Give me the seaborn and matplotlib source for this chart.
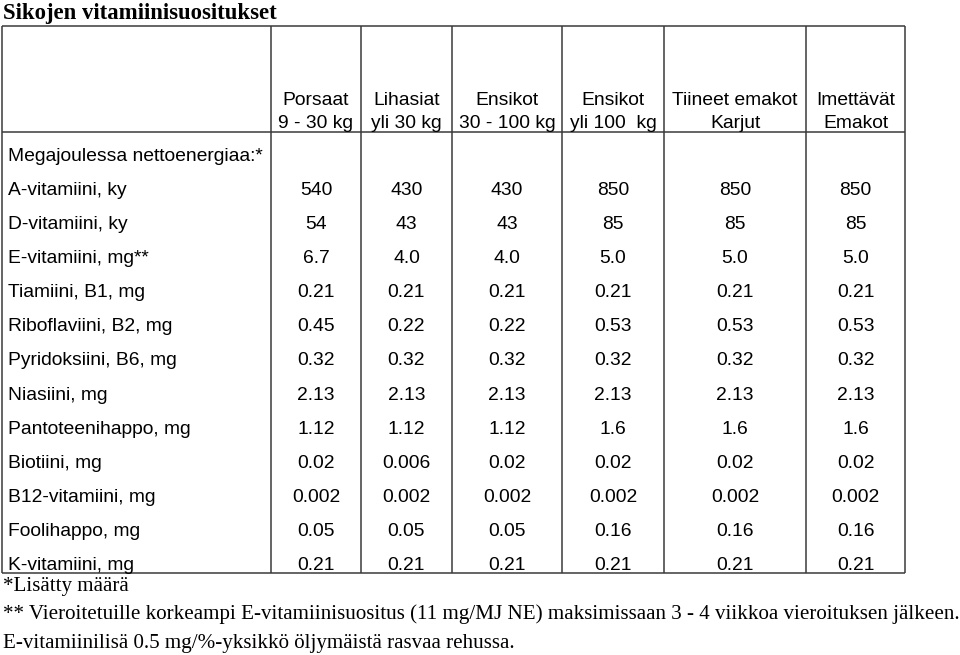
import matplotlib
matplotlib.use("Agg")
import matplotlib.pyplot as plt
import seaborn as sns

# --- table content ---
title = "Sikojen vitamiinisuositukset"

col_headers = ["Porsaat\n9 - 30 kg", "Lihasiat\nyli 30 kg", "Ensikot\n30 - 100 kg",
               "Ensikot\nyli 100  kg", "Tiineet emakot\nKarjut", "Imettävät\nEmakot"]

section_label = "Megajoulessa nettoenergiaa:*"
row_labels = ["A-vitamiini, ky", "D-vitamiini, ky", "E-vitamiini, mg**", "Tiamiini, B1, mg",
              "Riboflaviini, B2, mg", "Pyridoksiini, B6, mg", "Niasiini, mg",
              "Pantoteenihappo, mg", "Biotiini, mg", "B12-vitamiini, mg",
              "Foolihappo, mg", "K-vitamiini, mg"]

porsaat = ["540", "54", "6.7", "0.21", "0.45", "0.32", "2.13", "1.12", "0.02", "0.002", "0.05", "0.21"]
lihasiat = ["430", "43", "4.0", "0.21", "0.22", "0.32", "2.13", "1.12", "0.006", "0.002", "0.05", "0.21"]
ensikot_30_100 = ["430", "43", "4.0", "0.21", "0.22", "0.32", "2.13", "1.12", "0.02", "0.002", "0.05", "0.21"]
ensikot_yli_100 = ["850", "85", "5.0", "0.21", "0.53", "0.32", "2.13", "1.6", "0.02", "0.002", "0.16", "0.21"]
tiineet = ["850", "85", "5.0", "0.21", "0.53", "0.32", "2.13", "1.6", "0.02", "0.002", "0.16", "0.21"]
imettavat = ["850", "85", "5.0", "0.21", "0.53", "0.32", "2.13", "1.6", "0.02", "0.002", "0.16", "0.21"]
columns = [porsaat, lihasiat, ensikot_30_100, ensikot_yli_100, tiineet, imettavat]

footnotes = ["*Lisätty määrä",
             "** Vieroitetuille korkeampi E-vitamiinisuositus (11 mg/MJ NE) maksimissaan 3 - 4 viikkoa vieroituksen jälkeen.",
             "E-vitamiinilisä 0.5 mg/%-yksikkö öljymäistä rasvaa rehussa."]

# --- layout (pixel coords) ---
col_edges = [2, 271, 361, 452, 562, 664, 806, 905]
table_top, header_bottom, table_bottom = 26, 132, 573
first_base, row_step = 161, 34.08
line_color = "#3a3a3a"
body_size = 13.9

sns.set_theme(style="white")
plt.rcParams["font.family"] = ["Liberation Sans", "DejaVu Sans"]

fig = plt.figure(figsize=(9.6, 6.55), dpi=100)
ax = fig.add_axes([0, 0, 1, 1])
ax.set_xlim(0, 960)
ax.set_ylim(655, 0)
ax.axis("off")

# grid lines
ax.hlines([table_top, header_bottom, table_bottom], col_edges[0], col_edges[-1],
          color=line_color, lw=1.1)
ax.vlines(col_edges, table_top, table_bottom, color=line_color, lw=1.1)

# title
ax.text(3, 19, title, family="Liberation Serif", weight="bold", fontsize=16.4,
        va="baseline", ha="left", color="black")

centers = [(a + b) / 2 for a, b in zip(col_edges[1:-1], col_edges[2:])]

# headers
for cx, h in zip(centers, col_headers):
    top, bottom = h.split("\n")
    ax.text(cx, 105, top, ha="center", va="baseline", fontsize=body_size, color="black")
    ax.text(cx, 128, bottom, ha="center", va="baseline", fontsize=body_size, color="black")

# rows
ax.text(8, first_base, section_label, ha="left", va="baseline", fontsize=body_size, color="black")
for i, lab in enumerate(row_labels):
    y = first_base + (i + 1) * row_step
    ax.text(8, y, lab, ha="left", va="baseline", fontsize=body_size, color="black")
    for cx, col in zip(centers, columns):
        ax.text(cx, y, col[i], ha="center", va="baseline", fontsize=body_size, color="black")

# footnotes
for j, note in enumerate(footnotes):
    ax.text(3, 591 + j * 28.5, note, family="Liberation Serif", ha="left", va="baseline",
            fontsize=15.1, color="black")

fig.savefig("out.png", dpi=100, facecolor="white")
